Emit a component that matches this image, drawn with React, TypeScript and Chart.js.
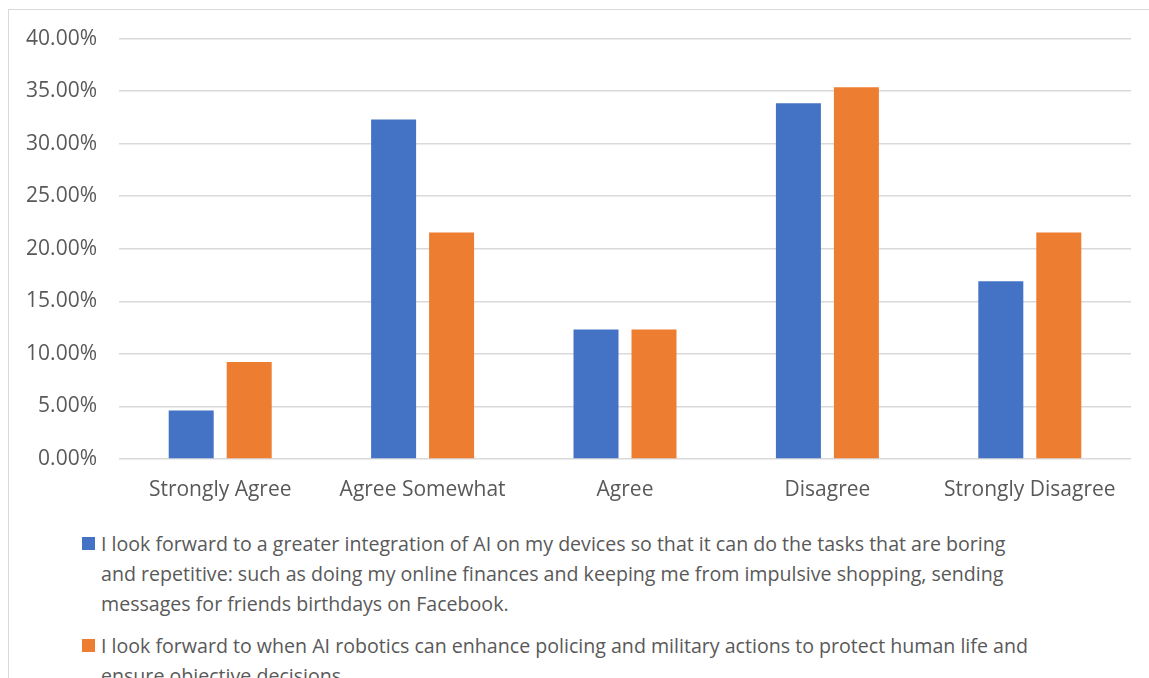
import React, { useEffect, useRef } from "react";
import { Chart, registerables } from "chart.js";

Chart.register(...registerables);

const CATEGORIES = ["Strongly Agree", "Agree Somewhat", "Agree", "Disagree", "Strongly Disagree"];
const SERIES_A_LINES = [
  "I look forward to a greater integration of AI on my devices so that it can do the tasks that are boring",
  "and repetitive: such as doing my online finances and keeping me from impulsive shopping, sending",
  "messages for friends birthdays on Facebook.",
];
const SERIES_B_LINES = [
  "I look forward to when AI robotics can enhance policing and military actions to protect human life and",
  "ensure objective decisions.",
];
const SERIES_A_VALUES = [4.62, 32.31, 12.31, 33.85, 16.92];
const SERIES_B_VALUES = [9.23, 21.54, 12.31, 35.38, 21.54];
const Y_MIN = 0;
const Y_MAX = 40;
const Y_STEP = 5;
const COLORS = ["#4472C4", "#ED7D31"];

const FONT = "'Open Sans', sans-serif";
const TEXT = "#595959";

export default function App() {
  const ref = useRef<HTMLCanvasElement | null>(null);

  useEffect(() => {
    if (!ref.current) return;
    const chart = new Chart(ref.current, {
      type: "bar",
      data: {
        labels: CATEGORIES,
        datasets: [
          {
            label: SERIES_A_LINES.join(" "),
            data: SERIES_A_VALUES,
            backgroundColor: COLORS[0],
            categoryPercentage: 0.573,
            barPercentage: 0.776,
          },
          {
            label: SERIES_B_LINES.join(" "),
            data: SERIES_B_VALUES,
            backgroundColor: COLORS[1],
            categoryPercentage: 0.573,
            barPercentage: 0.776,
          },
        ],
      },
      options: {
        animation: false,
        responsive: false,
        maintainAspectRatio: false,
        layout: { padding: { top: 22, right: 18, left: 0, bottom: 0 } },
        plugins: { legend: { display: false }, tooltip: { enabled: false } },
        scales: {
          x: {
            grid: { display: false, drawTicks: false },
            border: { display: false },
            ticks: { color: TEXT, font: { family: FONT, size: 21 }, padding: 18, maxRotation: 0, autoSkip: false },
            afterFit: (s: any) => {
              s.height = 61;
            },
          },
          y: {
            min: Y_MIN,
            max: Y_MAX,
            grid: { color: "#d9d9d9", lineWidth: 1.5, drawTicks: false },
            border: { display: false },
            ticks: {
              stepSize: Y_STEP,
              color: TEXT,
              font: { family: FONT, size: 21 },
              padding: 22,
              callback: (v: any) => Number(v).toFixed(2) + "%",
            },
            afterFit: (s: any) => {
              s.width = 110;
            },
          },
        },
      },
    });
    return () => chart.destroy();
  }, []);

  const legendItem = (lines: string[], color: string, top: number) => (
    <div style={{ position: "absolute", left: 73, top, fontFamily: FONT, fontSize: 19.6, lineHeight: "30px", color: TEXT, whiteSpace: "nowrap" }}>
      <div style={{ position: "absolute", left: 0, top: 8, width: 13, height: 13, background: color }} />
      <div style={{ marginLeft: 19 }}>
        {lines.map((l, i) => (
          <div key={i}>{l}</div>
        ))}
      </div>
    </div>
  );

  return (
    <div style={{ position: "fixed", left: 0, top: 0, width: 1149, height: 678, overflow: "hidden", background: "#fff" }}>
      <div style={{ position: "absolute", left: 8, top: 9, width: 1200, height: 720, border: "1px solid #d9d9d9", background: "#fff" }}>
        <canvas ref={ref} width={1140} height={516} style={{ position: "absolute", left: 0, top: -6 }} />
        {legendItem(SERIES_A_LINES, COLORS[0], 519)}
        {legendItem(SERIES_B_LINES, COLORS[1], 621)}
      </div>
    </div>
  );
}
